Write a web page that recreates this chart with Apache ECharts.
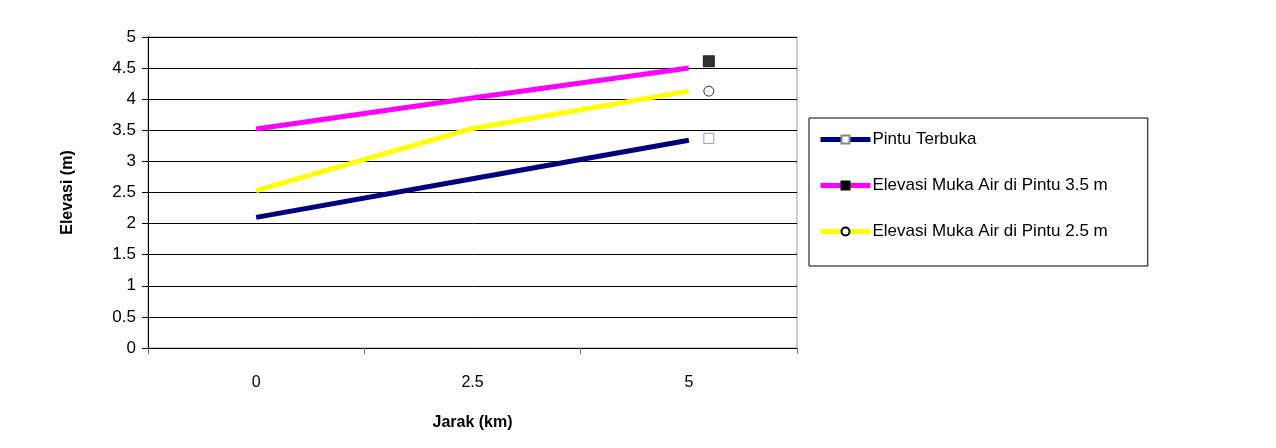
<!DOCTYPE html>
<html>
<head>
<meta charset="utf-8">
<script src="https://cdn.jsdelivr.net/npm/echarts@6/dist/echarts.min.js"></script>
<style>
  html, body { margin: 0; padding: 0; background: #fff; }
  #chart { width: 1276px; height: 448px; }
</style>
</head>
<body>
<div id="chart"></div>
<script>
// data
const jarak = ['0', '2.5', '5'];
const pintuTerbuka = [2.1, 2.72, 3.34];
const elevasi35 = [3.52, 4.02, 4.5];
const elevasi25 = [2.53, 3.53, 4.13];
// stray markers drawn beside the last category
const markerTerbuka = [['5', 3.37]];
const marker35 = [['5', 4.61]];
const marker25 = [['5', 4.13]];

const names = ['Pintu Terbuka', 'Elevasi Muka Air di Pintu 3.5 m', 'Elevasi Muka Air di Pintu 2.5 m'];
const font = '"Liberation Sans", Arial, sans-serif';

const chart = echarts.init(document.getElementById('chart'));

const lineSeries = (name, data, color, symbol, symColor, symBorder) => ({
  name: name,
  type: 'line',
  data: data,
  symbol: symbol,
  symbolSize: 10,
  showSymbol: false,
  lineStyle: { color: color, width: 5 },
  itemStyle: { color: symColor, borderColor: symBorder, borderWidth: 1 },
  z: 3,
  silent: true
});

const markerSeries = (name, data, symbol, symColor, symBorder, size) => ({
  name: name,
  type: 'scatter',
  data: data,
  symbol: symbol,
  symbolSize: size,
  symbolOffset: [20, 0],
  itemStyle: { color: symColor, borderColor: symBorder, borderWidth: 1 },
  z: 4,
  silent: true
});

chart.setOption({
  animation: false,
  textStyle: { fontFamily: font, color: '#000' },
  grid: {
    left: 148, right: 479, top: 37, bottom: 100,
    show: true, borderColor: '#999', borderWidth: 1
  },
  legend: {
    orient: 'vertical',
    left: 809, top: 118,
    padding: [13, 40, 26, 9],
    itemGap: 29,
    itemWidth: 50,
    itemHeight: 10,
    borderColor: '#000',
    borderWidth: 1,
    data: names,
    lineStyle: { width: 5 },
    textStyle: { fontSize: 17, color: '#000', fontFamily: font, padding: [0, 0, 0, -3] }
  },
  xAxis: {
    type: 'category',
    data: jarak,
    boundaryGap: true,
    name: 'Jarak (km)',
    nameLocation: 'middle',
    nameGap: 67,
    nameTextStyle: { fontSize: 16, fontWeight: 'bold', color: '#000' },
    axisLine: { lineStyle: { color: '#000', width: 1 } },
    axisTick: { show: true, length: 6, lineStyle: { color: '#777' } },
    axisLabel: { fontSize: 16, color: '#000', margin: 27 },
    splitLine: { show: false }
  },
  yAxis: {
    type: 'value',
    min: 0, max: 5, interval: 0.5,
    name: 'Elevasi (m)',
    nameLocation: 'middle',
    nameGap: 72,
    nameTextStyle: { fontSize: 16, fontWeight: 'bold', color: '#000' },
    axisLine: { show: true, lineStyle: { color: '#000', width: 1 } },
    axisTick: { show: true, inside: false, length: 6, lineStyle: { color: '#000' } },
    axisLabel: { fontSize: 17, color: '#000', margin: 12 },
    splitLine: { show: true, lineStyle: { color: '#000', width: 1 } }
  },
  series: [
    lineSeries(names[0], pintuTerbuka, '#000080', 'rect', '#fff', '#888'),
    lineSeries(names[1], elevasi35, '#ff00ff', 'rect', '#000', '#000'),
    lineSeries(names[2], elevasi25, '#ffff00', 'circle', '#fff', '#000'),
    markerSeries(names[0], markerTerbuka, 'rect', '#fff', '#888', 10),
    markerSeries(names[1], marker35, 'rect', '#000', '#000', 11),
    markerSeries(names[2], marker25, 'circle', '#fff', '#000', 10)
  ]
});
</script>
</body>
</html>
